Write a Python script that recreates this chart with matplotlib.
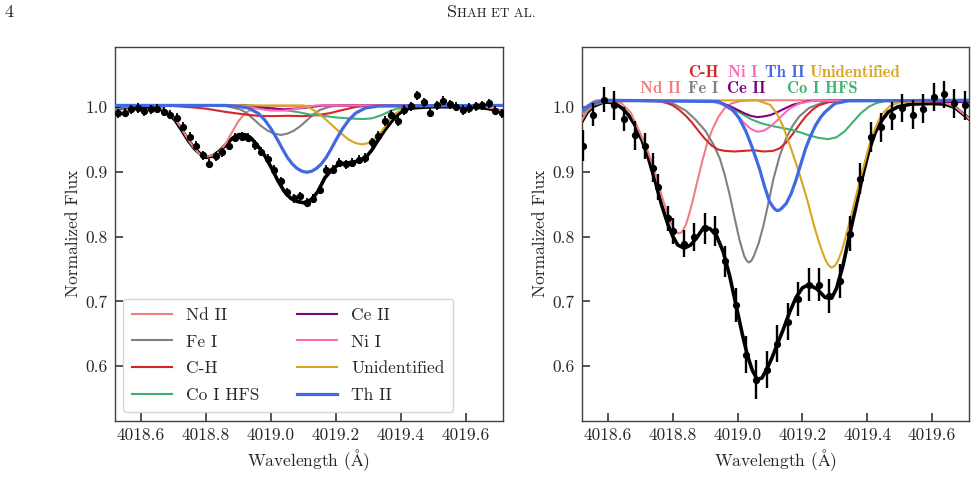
import matplotlib
matplotlib.use("Agg")
import matplotlib.pyplot as plt
from matplotlib.ticker import MultipleLocator, FormatStrFormatter

plt.rcParams['font.family'] = 'serif'
plt.rcParams['font.serif'] = ['cmr10', 'DejaVu Serif']
plt.rcParams['mathtext.fontset'] = 'cm'
plt.rcParams['axes.formatter.use_mathtext'] = True
plt.rcParams['axes.unicode_minus'] = False

species = ['Nd II', 'Fe I', 'C-H', 'Co I HFS', 'Ce II', 'Ni I', 'Unidentified', 'Th II']
colors = {'Nd II': '#f08080', 'Fe I': '#808080', 'C-H': '#d62728', 'Co I HFS': '#3cb371',
          'Ce II': '#800080', 'Ni I': '#ff69b4', 'Unidentified': '#daa520', 'Th II': '#4169e1'}

# ---------------- left panel ----------------
left_wave = [4018.53, 4018.55, 4018.57, 4018.59, 4018.61, 4018.63, 4018.65, 4018.67, 4018.69, 4018.71,
             4018.73, 4018.75, 4018.77, 4018.79, 4018.81, 4018.83, 4018.85, 4018.87, 4018.89, 4018.91,
             4018.93, 4018.95, 4018.97, 4018.99, 4019.01, 4019.03, 4019.05, 4019.07, 4019.09, 4019.11,
             4019.13, 4019.15, 4019.17, 4019.19, 4019.21, 4019.23, 4019.25, 4019.27, 4019.29, 4019.31,
             4019.33, 4019.35, 4019.37, 4019.39, 4019.41, 4019.43, 4019.45, 4019.47, 4019.49, 4019.51,
             4019.53, 4019.55, 4019.57, 4019.59, 4019.61, 4019.63, 4019.65, 4019.67, 4019.69, 4019.71]
left_flux = [0.990, 0.991, 0.996, 0.998, 0.993, 0.996, 0.997, 0.992, 0.988, 0.983,
             0.969, 0.954, 0.940, 0.925, 0.912, 0.924, 0.930, 0.940, 0.952, 0.954,
             0.952, 0.941, 0.931, 0.920, 0.903, 0.885, 0.868, 0.859, 0.862, 0.852,
             0.858, 0.872, 0.903, 0.903, 0.914, 0.911, 0.914, 0.918, 0.921, 0.945,
             0.955, 0.978, 0.988, 0.978, 0.995, 1.001, 1.018, 1.007, 0.991, 1.002,
             1.009, 1.004, 1.000, 0.995, 0.998, 1.001, 1.002, 1.005, 0.994, 0.990]
left_err = [0.007] * 60

left_fit_wave = [4018.52, 4018.56, 4018.60, 4018.64, 4018.665, 4018.685, 4018.705, 4018.725, 4018.745,
                 4018.765, 4018.785, 4018.80, 4018.82, 4018.84, 4018.86, 4018.88, 4018.90, 4018.92,
                 4018.94, 4018.96, 4018.98, 4019.00, 4019.02, 4019.04, 4019.06, 4019.08, 4019.10,
                 4019.125, 4019.145, 4019.165, 4019.185, 4019.205, 4019.225, 4019.245, 4019.265,
                 4019.29, 4019.31, 4019.33, 4019.35, 4019.37, 4019.39, 4019.41, 4019.43, 4019.46,
                 4019.50, 4019.55, 4019.60, 4019.64, 4019.67, 4019.70, 4019.72]
left_fit_flux = [0.997, 0.999, 1.000, 0.999, 0.996, 0.990, 0.979, 0.964, 0.948,
                 0.935, 0.926, 0.922, 0.924, 0.931, 0.941, 0.951, 0.957, 0.957,
                 0.951, 0.939, 0.925, 0.907, 0.887, 0.870, 0.859, 0.854, 0.852,
                 0.857, 0.870, 0.890, 0.902, 0.910, 0.913, 0.914, 0.916,
                 0.921, 0.933, 0.949, 0.964, 0.977, 0.988, 0.995, 0.998, 0.999,
                 1.000, 1.000, 1.000, 0.999, 0.997, 0.994, 0.991]

left_comp = {
    'Nd II': ([4018.52, 4018.64, 4018.66, 4018.68, 4018.70, 4018.72, 4018.74, 4018.76, 4018.78, 4018.80,
               4018.82, 4018.84, 4018.86, 4018.88, 4018.90, 4018.92, 4018.94, 4018.97, 4019.60, 4019.64,
               4019.67, 4019.70, 4019.72],
              [1.002, 1.001, 0.998, 0.993, 0.984, 0.970, 0.953, 0.938, 0.927, 0.923,
               0.925, 0.930, 0.943, 0.961, 0.978, 0.990, 0.996, 1.001, 1.002, 1.001,
               0.999, 0.995, 0.992]),
    'Fe I': ([4018.52, 4018.56, 4018.60, 4018.86, 4018.88, 4018.91, 4018.93, 4018.95, 4018.97, 4018.99,
              4019.01, 4019.03, 4019.05, 4019.07, 4019.09, 4019.11, 4019.13, 4019.15, 4019.18, 4019.21,
              4019.72],
             [0.996, 0.999, 1.002, 1.001, 0.999, 0.995, 0.988, 0.979, 0.970, 0.963,
              0.9585, 0.9565, 0.9585, 0.963, 0.970, 0.979, 0.988, 0.995, 1.000, 1.002,
              1.002]),
    'C-H': ([4018.52, 4018.70, 4018.76, 4018.80, 4018.86, 4018.92, 4018.96, 4019.00, 4019.05, 4019.10,
             4019.14, 4019.18, 4019.22, 4019.26, 4019.30, 4019.72],
            [1.002, 1.001, 0.999, 0.997, 0.992, 0.988, 0.986, 0.9855, 0.986, 0.9855,
             0.987, 0.990, 0.995, 0.9995, 1.002, 1.002]),
    'Co I HFS': ([4018.52, 4018.94, 4019.00, 4019.04, 4019.08, 4019.12, 4019.16, 4019.20, 4019.24, 4019.28,
                  4019.31, 4019.34, 4019.37, 4019.40, 4019.44, 4019.72],
                 [1.002, 1.002, 0.998, 0.995, 0.992, 0.988, 0.986, 0.9835, 0.982, 0.981,
                  0.982, 0.987, 0.994, 0.999, 1.002, 1.002]),
    'Ce II': ([4018.52, 4018.92, 4018.98, 4019.04, 4019.10, 4019.16, 4019.72],
              [1.002, 1.002, 0.998, 0.996, 0.998, 1.002, 1.002]),
    'Ni I': ([4018.52, 4018.90, 4018.96, 4019.00, 4019.04, 4019.08, 4019.14, 4019.72],
             [1.002, 1.002, 0.997, 0.994, 0.994, 0.997, 1.002, 1.002]),
    'Unidentified': ([4018.52, 4019.10, 4019.12, 4019.14, 4019.16, 4019.18, 4019.20, 4019.22, 4019.24,
                      4019.26, 4019.28, 4019.30, 4019.32, 4019.34, 4019.36, 4019.38, 4019.40, 4019.43,
                      4019.72],
                     [1.002, 1.002, 0.998, 0.992, 0.984, 0.975, 0.966, 0.957, 0.949,
                      0.944, 0.942, 0.944, 0.951, 0.962, 0.976, 0.988, 0.996, 1.001,
                      1.002]),
    'Th II': ([4018.52, 4018.86, 4018.90, 4018.93, 4018.96, 4018.98, 4019.00, 4019.02, 4019.035, 4019.05,
               4019.065, 4019.08, 4019.095, 4019.11, 4019.125, 4019.14, 4019.155, 4019.17, 4019.185,
               4019.20, 4019.22, 4019.24, 4019.26, 4019.29, 4019.33, 4019.72],
              [1.002, 1.002, 1.0005, 0.998, 0.990, 0.980, 0.966, 0.949, 0.935, 0.922,
               0.912, 0.905, 0.9006, 0.899, 0.9006, 0.905, 0.912, 0.922, 0.935,
               0.949, 0.966, 0.980, 0.990, 0.998, 1.001, 1.002]),
}

# ---------------- right panel ----------------
right_wave = [4018.523, 4018.554, 4018.587, 4018.617, 4018.649, 4018.682, 4018.715, 4018.738, 4018.754, 4018.786,
              4018.799, 4018.835, 4018.866, 4018.898, 4018.930, 4018.961, 4018.994, 4019.027, 4019.058, 4019.091,
              4019.122, 4019.155, 4019.187, 4019.219, 4019.250, 4019.281, 4019.315, 4019.348, 4019.378, 4019.412,
              4019.443, 4019.476, 4019.508, 4019.540, 4019.573, 4019.606, 4019.638, 4019.669, 4019.702]
right_flux = [0.940, 0.988, 1.011, 1.002, 0.981, 0.956, 0.939, 0.906, 0.877, 0.828,
              0.808, 0.789, 0.799, 0.813, 0.808, 0.762, 0.695, 0.618, 0.579, 0.595,
              0.635, 0.669, 0.704, 0.726, 0.726, 0.708, 0.732, 0.804, 0.889, 0.954,
              0.968, 0.986, 0.998, 0.988, 0.997, 1.015, 1.019, 1.005, 1.002]
right_err = [0.024, 0.018, 0.019, 0.022, 0.019, 0.022, 0.020, 0.022, 0.020, 0.019,
             0.020, 0.021, 0.022, 0.024, 0.023, 0.024, 0.026, 0.028, 0.030, 0.028,
             0.029, 0.028, 0.026, 0.026, 0.026, 0.026, 0.026, 0.027, 0.024, 0.023,
             0.023, 0.022, 0.021, 0.022, 0.022, 0.022, 0.021, 0.022, 0.022]

right_fit_wave = [4018.52, 4018.535, 4018.555, 4018.585, 4018.605, 4018.625, 4018.645, 4018.665, 4018.685,
                  4018.705, 4018.725, 4018.745, 4018.765, 4018.785, 4018.80, 4018.815, 4018.835, 4018.855,
                  4018.875, 4018.895, 4018.915, 4018.935, 4018.955, 4018.975, 4018.995, 4019.015, 4019.03,
                  4019.045, 4019.06, 4019.075, 4019.09, 4019.105, 4019.12, 4019.14, 4019.16, 4019.18,
                  4019.20, 4019.22, 4019.245, 4019.27, 4019.29, 4019.305, 4019.325, 4019.345, 4019.365,
                  4019.385, 4019.405, 4019.425, 4019.445, 4019.465, 4019.495, 4019.535, 4019.60, 4019.64,
                  4019.67, 4019.70, 4019.715]
right_fit_flux = [0.978, 0.991, 1.001, 1.007, 1.007, 1.004, 0.997, 0.986, 0.970,
                  0.948, 0.920, 0.886, 0.849, 0.818, 0.800, 0.787, 0.782, 0.787,
                  0.799, 0.814, 0.812, 0.801, 0.777, 0.740, 0.694, 0.648, 0.617,
                  0.594, 0.580, 0.582, 0.596, 0.612, 0.631, 0.656, 0.683, 0.706,
                  0.721, 0.726, 0.719, 0.706, 0.705, 0.720, 0.755, 0.802, 0.846,
                  0.892, 0.932, 0.961, 0.979, 0.992, 1.000, 1.004, 1.005, 1.004,
                  0.999, 0.987, 0.981]

right_comp = {
    'Nd II': ([4018.52, 4018.535, 4018.56, 4018.60, 4018.64, 4018.67, 4018.70, 4018.72, 4018.74, 4018.76,
               4018.78, 4018.795, 4018.808, 4018.813, 4018.818, 4018.823, 4018.828, 4018.84, 4018.85, 4018.862,
               4018.875, 4018.89, 4018.905, 4018.92, 4018.94, 4018.96, 4018.98, 4019.01, 4019.05, 4019.60,
               4019.64, 4019.67, 4019.70, 4019.715],
              [0.980, 0.993, 1.004, 1.009, 1.006, 0.991, 0.958, 0.935, 0.907, 0.872,
               0.840, 0.820, 0.808, 0.806, 0.805, 0.8055, 0.807, 0.818, 0.834, 0.857,
               0.884, 0.915, 0.942, 0.963, 0.984, 0.998, 1.005, 1.009, 1.010, 1.010,
               1.006, 1.000, 0.988, 0.981]),
    'Fe I': ([4018.52, 4018.55, 4018.59, 4018.70, 4018.76, 4018.80, 4018.84, 4018.87, 4018.90, 4018.925,
              4018.945, 4018.96, 4018.975, 4018.99, 4019.005, 4019.02, 4019.028, 4019.035, 4019.042, 4019.05,
              4019.065, 4019.08, 4019.095, 4019.11, 4019.13, 4019.15, 4019.17, 4019.19, 4019.22, 4019.26,
              4019.31, 4019.715],
             [0.990, 1.002, 1.008, 1.009, 1.008, 1.005, 0.994, 0.980, 0.963, 0.942,
              0.920, 0.895, 0.865, 0.830, 0.796, 0.770, 0.7625, 0.760, 0.7625, 0.770,
              0.790, 0.818, 0.852, 0.888, 0.925, 0.952, 0.971, 0.985, 0.998, 1.006,
              1.009, 1.010]),
    'C-H': ([4018.52, 4018.56, 4018.72, 4018.75, 4018.78, 4018.80, 4018.82, 4018.84, 4018.86, 4018.88,
             4018.90, 4018.92, 4018.94, 4018.96, 4018.99, 4019.02, 4019.05, 4019.08, 4019.11, 4019.13,
             4019.15, 4019.17, 4019.19, 4019.21, 4019.23, 4019.25, 4019.28, 4019.32, 4019.715],
            [0.995, 1.009, 1.010, 1.009, 1.006, 1.002, 0.995, 0.986, 0.975, 0.962,
             0.950, 0.940, 0.934, 0.932, 0.931, 0.932, 0.933, 0.931, 0.932, 0.936,
             0.945, 0.958, 0.972, 0.985, 0.995, 1.002, 1.007, 1.009, 1.010]),
    'Co I HFS': ([4018.52, 4018.56, 4018.92, 4018.95, 4018.98, 4019.01, 4019.04, 4019.07, 4019.10, 4019.13,
                  4019.16, 4019.19, 4019.22, 4019.25, 4019.28, 4019.305, 4019.33, 4019.355, 4019.38, 4019.405,
                  4019.43, 4019.46, 4019.715],
                 [0.995, 1.009, 1.009, 1.005, 0.998, 0.990, 0.981, 0.975, 0.971, 0.968,
                  0.965, 0.961, 0.956, 0.952, 0.950, 0.953, 0.962, 0.976, 0.990, 1.000,
                  1.006, 1.009, 1.010]),
    'Ce II': ([4018.52, 4018.56, 4018.92, 4018.95, 4018.98, 4019.00, 4019.02, 4019.04, 4019.06, 4019.08,
               4019.10, 4019.12, 4019.14, 4019.17, 4019.22, 4019.40, 4019.50, 4019.715],
              [0.995, 1.009, 1.009, 1.006, 1.000, 0.995, 0.990, 0.986, 0.984, 0.985,
               0.987, 0.991, 0.996, 1.003, 1.009, 1.010, 1.008, 1.007]),
    'Ni I': ([4018.52, 4018.56, 4018.92, 4018.95, 4018.98, 4019.00, 4019.02, 4019.04, 4019.06, 4019.08,
              4019.10, 4019.12, 4019.14, 4019.16, 4019.19, 4019.23, 4019.715],
             [0.995, 1.009, 1.008, 1.004, 0.995, 0.986, 0.975, 0.966, 0.9615, 0.963,
              0.969, 0.978, 0.988, 0.997, 1.005, 1.009, 1.010]),
    'Unidentified': ([4018.52, 4018.56, 4019.06, 4019.10, 4019.12, 4019.14, 4019.165, 4019.19, 4019.215,
                      4019.235, 4019.25, 4019.26, 4019.27, 4019.28, 4019.29, 4019.30, 4019.31, 4019.32,
                      4019.33, 4019.345, 4019.36, 4019.375, 4019.39, 4019.405, 4019.42, 4019.435, 4019.45,
                      4019.47, 4019.50, 4019.715],
                     [0.995, 1.009, 1.010, 1.003, 0.990, 0.970, 0.935, 0.898, 0.856,
                      0.818, 0.793, 0.778, 0.765, 0.756, 0.752, 0.755, 0.763, 0.776,
                      0.793, 0.822, 0.852, 0.882, 0.910, 0.939, 0.961, 0.979, 0.991,
                      1.001, 1.007, 1.010]),
    'Th II': ([4018.52, 4018.55, 4018.59, 4018.94, 4018.96, 4018.985, 4019.005, 4019.026, 4019.045, 4019.067,
               4019.083, 4019.098, 4019.11, 4019.116, 4019.122, 4019.128, 4019.135, 4019.15, 4019.165, 4019.18,
               4019.195, 4019.21, 4019.225, 4019.24, 4019.255, 4019.27, 4019.30, 4019.34, 4019.715],
              [0.995, 1.005, 1.010, 1.008, 1.003, 0.995, 0.982, 0.9615, 0.937, 0.905,
               0.877, 0.854, 0.845, 0.8415, 0.840, 0.8405, 0.843, 0.851, 0.866, 0.887,
               0.912, 0.936, 0.955, 0.971, 0.983, 0.992, 1.005, 1.009, 1.010]),
}

# species labels written at the top of the right panel
label_row1 = ['C-H', 'Ni I', 'Th II', 'Unidentified']
label_row1_x = [0.274, 0.377, 0.473, 0.589]
label_row2 = ['Nd II', 'Fe I', 'Ce II', 'Co I HFS']
label_row2_x = [0.151, 0.274, 0.375, 0.530]

xlim = (4018.518, 4019.714)
ylim = (0.5165, 1.092)

fig = plt.figure(figsize=(9.78, 4.95), dpi=100)
ax1 = fig.add_axes([0.1171, 0.1505, 0.3972, 0.7545])
ax2 = fig.add_axes([0.5946, 0.1505, 0.3962, 0.7545])


def draw_panel(ax, comp, fit_w, fit_f, w, f, e, elw):
    ax.plot(fit_w, fit_f, color='k', lw=2.6, zorder=2, solid_joinstyle='round')
    for name in species:
        cw, cf = comp[name]
        lw = 2.3 if name == 'Th II' else 1.5
        ax.plot(cw, cf, color=colors[name], lw=lw, label=name, zorder=3,
                solid_joinstyle='round')
    ax.errorbar(w, f, yerr=e, fmt='o', color='k', ms=4.2, elinewidth=elw,
                capsize=0, zorder=4)
    ax.set_xlim(*xlim)
    ax.set_ylim(*ylim)
    ax.xaxis.set_major_locator(MultipleLocator(0.2))
    ax.xaxis.set_major_formatter(FormatStrFormatter('%.1f'))
    ax.yaxis.set_major_locator(MultipleLocator(0.1))
    ax.yaxis.set_major_formatter(FormatStrFormatter('%.1f'))
    ax.tick_params(direction='in', length=6, width=1.1, labelsize=12.5,
                   colors='0.15', pad=5)
    for sp in ax.spines.values():
        sp.set_color('0.25')
        sp.set_linewidth(1.0)
    ax.set_xlabel(r'Wavelength ($\mathrm{\AA}$)', fontsize=12.5, color='0.15', labelpad=3)
    ax.set_ylabel('Normalized Flux', fontsize=12.5, color='0.15', labelpad=3)


draw_panel(ax1, left_comp, left_fit_wave, left_fit_flux, left_wave, left_flux, left_err, 1.3)
draw_panel(ax2, right_comp, right_fit_wave, right_fit_flux, right_wave, right_flux, right_err, 1.7)

ax1.legend(ncol=2, loc='lower left', fontsize=12.5, handlelength=2.3, handletextpad=0.8,
           columnspacing=2.2, labelspacing=0.66, borderpad=0.5, framealpha=0.8,
           edgecolor='0.8', labelcolor='0.15')

for names, xs, yy in [(label_row1, label_row1_x, 0.933), (label_row2, label_row2_x, 0.890)]:
    for name, xx in zip(names, xs):
        ax2.text(xx, yy, name, transform=ax2.transAxes, color=colors[name],
                 fontsize=12, family='cmb10', ha='left', va='center')

# page header
fig.text(0.005, 0.975, '4', fontsize=13, color='0.15', ha='left', va='center')
fig.text(0.4675, 0.975, 'S', fontsize=13, color='0.15', ha='right', va='center')
fig.text(0.4675, 0.9715, 'HAH ET AL.', fontsize=9.5, color='0.15', ha='left', va='center')

fig.savefig('out.png', dpi=100)
